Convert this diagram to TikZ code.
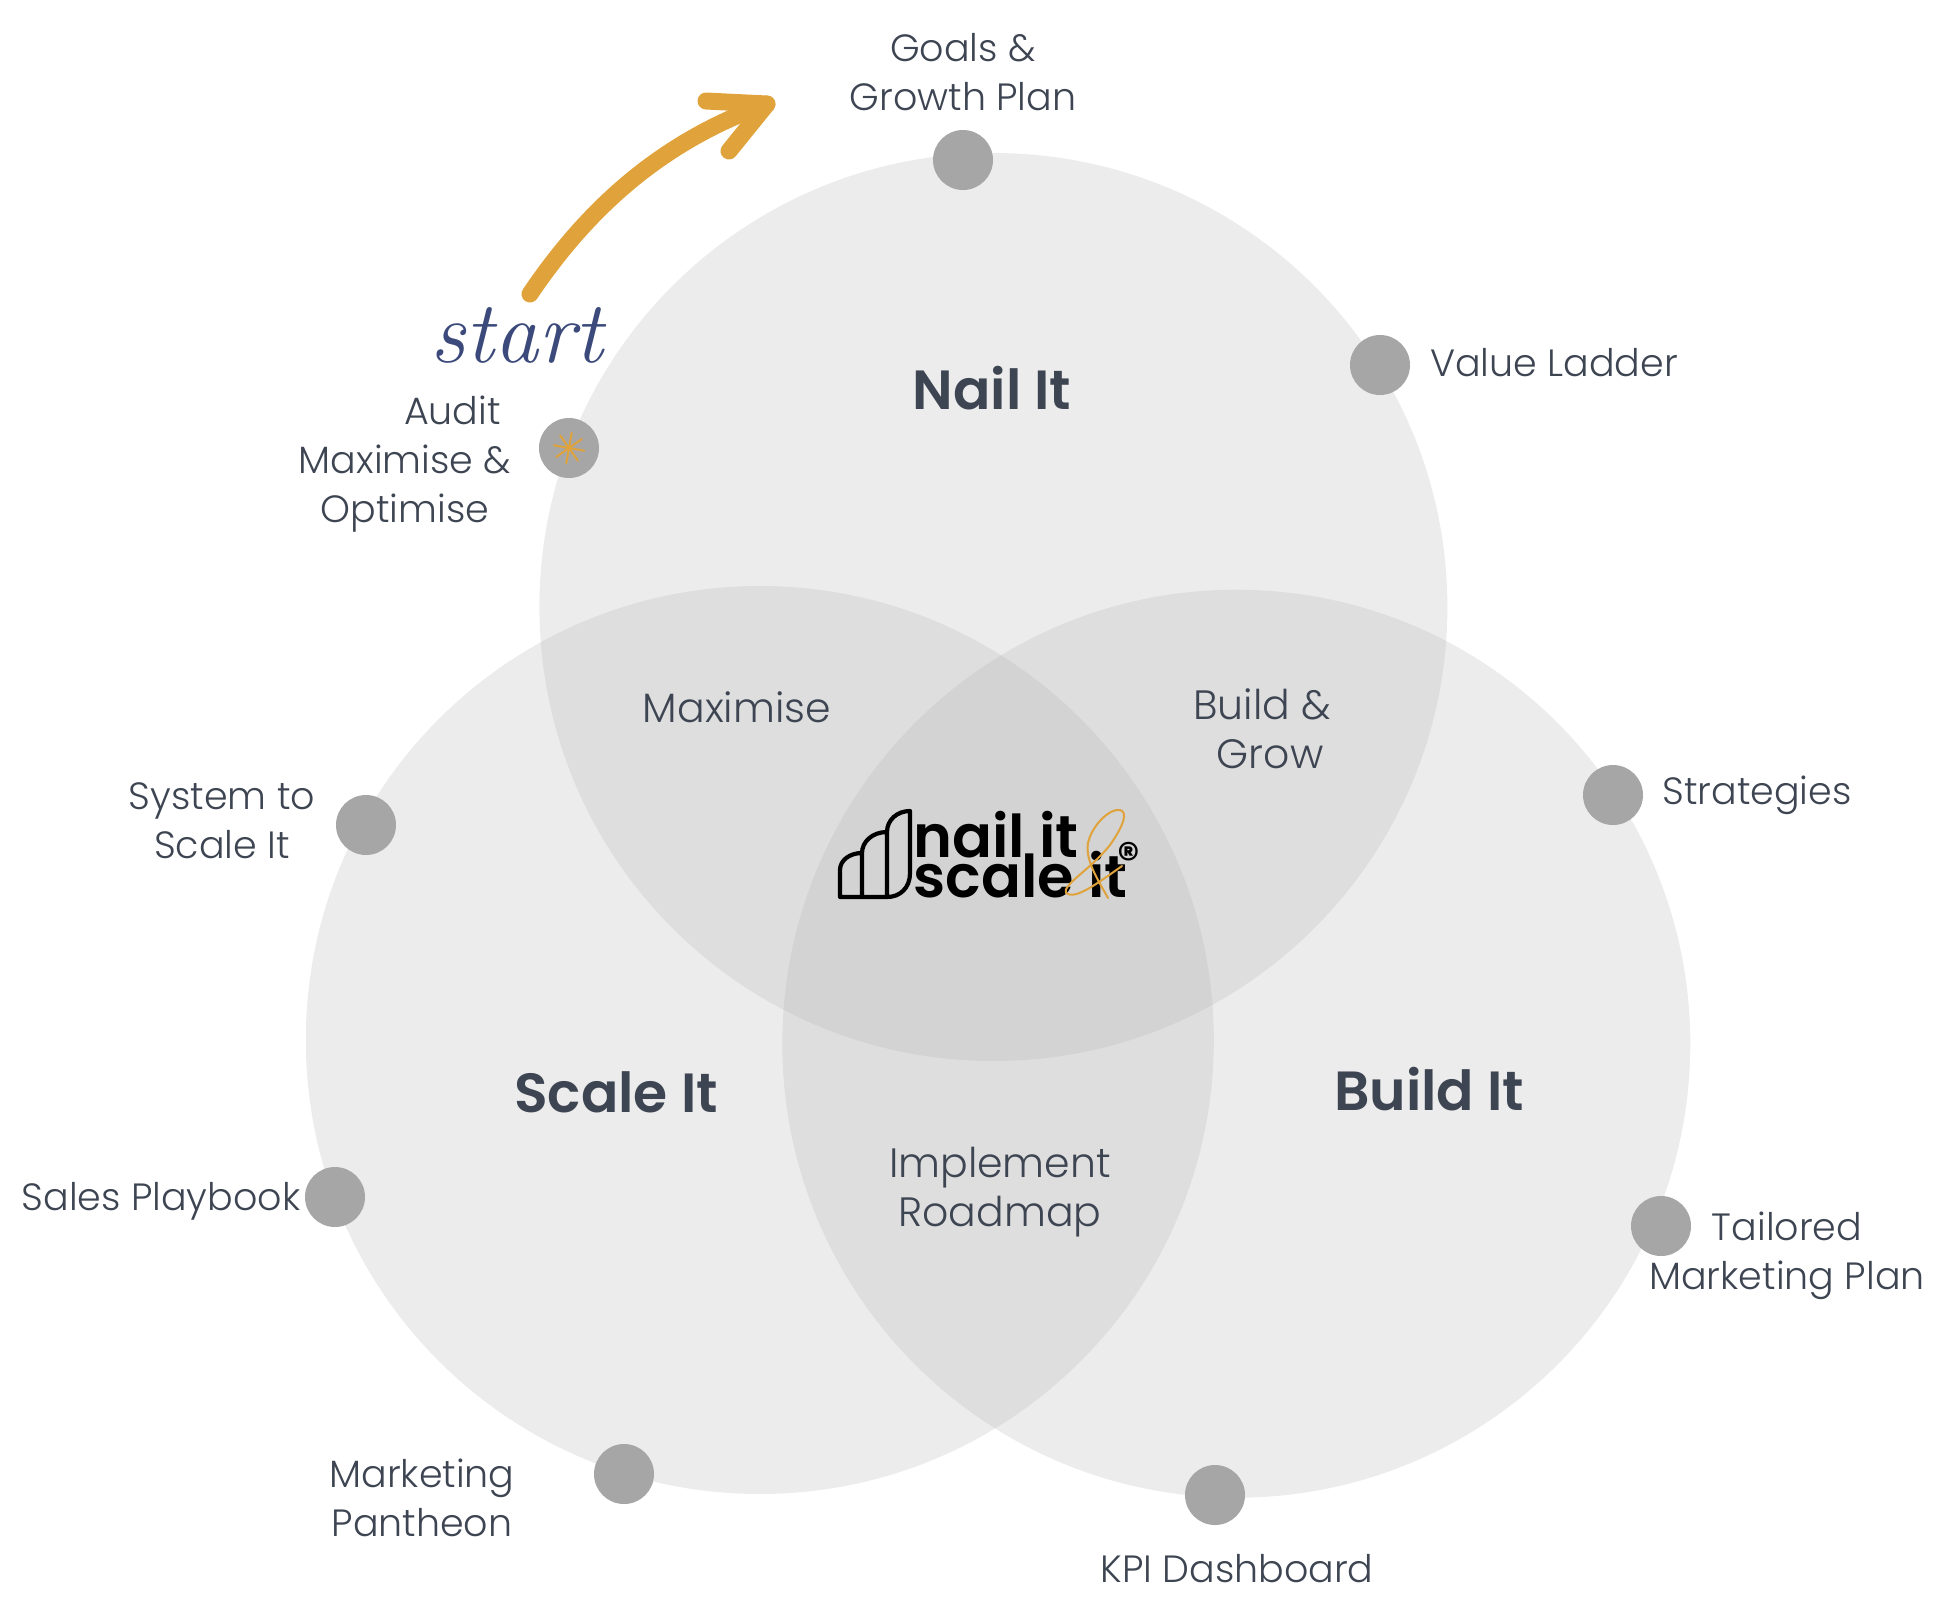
\documentclass[tikz,border=0pt]{standalone}
\usepackage{fontspec}
\setmainfont{Poppins}[UprightFont=* Light,BoldFont=* SemiBold]
\newfontfamily\logofont{Poppins}[UprightFont=* SemiBold]
\usetikzlibrary{arrows}
\definecolor{inkgray}{HTML}{3E4552}
\definecolor{dotgray}{HTML}{A6A6A6}
\definecolor{onecircle}{HTML}{ECECEC}
\definecolor{twocircle}{HTML}{DEDEDE}
\definecolor{threecircle}{HTML}{D3D3D3}
\definecolor{arrowgold}{HTML}{E0A33B}
\definecolor{startblue}{HTML}{3B4A7A}

\begin{document}
\begin{tikzpicture}[x=0.5pt,y=-0.5pt,node distance=100pt]
\tikzstyle{dotnode}=[circle,fill=dotgray,draw=none,inner sep=0pt,minimum size=30pt]
\tikzstyle{lbl}=[text=inkgray,align=center,inner sep=0pt,font=\fontsize{19pt}{24.5pt}\selectfont]
\tikzstyle{innerlbl}=[text=inkgray,align=center,inner sep=0pt,font=\fontsize{20.5pt}{24.5pt}\selectfont]
\tikzstyle{bigword}=[text=inkgray,inner sep=0pt,font=\bfseries\fontsize{27.6pt}{30pt}\selectfont]
\tikzstyle{logoword}=[text=black,inner sep=0pt,anchor=base west,font=\logofont\fontsize{29.5pt}{30pt}\selectfont]
\tikzset{golden/.style={draw=arrowgold,line cap=round,line join=round}}

        \useasboundingbox (0,0) rectangle (1948,1597);

        % the three big circles
        \fill[onecircle] (993.4,607) circle (454);
        \fill[onecircle] (759.8,1040) circle (454);
        \fill[onecircle] (1236.3,1043.7) circle (454);
        \begin{scope}
            \clip (993.4,607) circle (454);
            \fill[twocircle] (759.8,1040) circle (454);
            \fill[twocircle] (1236.3,1043.7) circle (454);
        \end{scope}
        \begin{scope}
            \clip (759.8,1040) circle (454);
            \fill[twocircle] (1236.3,1043.7) circle (454);
            \clip (1236.3,1043.7) circle (454);
            \fill[threecircle] (993.4,607) circle (454);
        \end{scope}

        % dots round the outside
        \node[dotnode] (goals)      at (963,160)   {};
        \node[dotnode] (value)      at (1380,365)  {};
        \node[dotnode] (strategies) at (1613,795)  {};
        \node[dotnode] (tailored)   at (1661,1226) {};
        \node[dotnode] (kpi)        at (1215,1495) {};
        \node[dotnode] (pantheon)   at (624,1474)  {};
        \node[dotnode] (sales)      at (335,1197)  {};
        \node[dotnode] (system)     at (366,825)   {};
        \node[dotnode] (audit)      at (569,448)   {};

        % labels of the dots
        \node[lbl] (goalsl)      [above of=goals,node distance=44pt] {Goals \&\\Growth Plan};
        \node[lbl] (valuel)      [right of=value,node distance=87pt,yshift=1pt] {Value Ladder};
        \node[lbl] (strategiesl) [right of=strategies,node distance=72pt] {Strategies};
        \node[lbl] (tailoredl)   [right of=tailored,node distance=63pt,yshift=-15pt] {Tailored\\Marketing Plan};
        \node[lbl] (kpil)        [below of=kpi,node distance=37pt,xshift=11pt] {KPI Dashboard};
        \node[lbl] (pantheonl)   [left of=pantheon,node distance=101pt,yshift=-12pt] {Marketing\\Pantheon};
        \node[lbl] (salesl)      [left of=sales,node distance=87pt,yshift=-2pt] {Sales Playbook};
        \node[lbl] (systeml)     [left of=system,node distance=72pt,yshift=2pt] {System to\\Scale It};
        \node[lbl] (auditl)      [left of=audit,node distance=82pt,yshift=-8pt] {\hspace*{2.5em}Audit\\Maximise \&\\Optimise};

        % names of the regions
        \node[bigword] (nail)  at (992,388)   {Nail It};
        \node[bigword] (scale) at (616,1092)  {Scale It};
        \node[bigword] (build) at (1429,1089) {Build It};
        \node[innerlbl] (maximise)  at (737,707)   {Maximise};
        \node[innerlbl] (buildgrow) at (1262,729)  {Build \&\\\hspace*{.4em}Grow};
        \node[innerlbl] (implement) at (1000,1192) {Implement\\Roadmap};

        % start arrow
        \coordinate (arrowstart) at (530,294);
        \coordinate (arrowtip)   at (767,104);
        \coordinate (barbleft)   at (706,101);
        \coordinate (barbright)  at (729,151);
        \draw[golden,line width=8.5pt] (arrowstart) .. controls (590,205) and (665,140) .. (arrowtip);
        \draw[golden,line width=8.5pt] (barbleft) -- (arrowtip) -- (barbright);
        \node[text=startblue,inner sep=0pt,font=\itshape\fontsize{44pt}{44pt}\selectfont\fontspec{Latin Modern Roman}] (startword) at (517,335) {start};

        % star in the audit dot
        \foreach \a in {10,55,100,145,190,235,280,325}
            \draw[golden,line width=1pt] (audit.center) -- +(\a:15.5);

        % logo
        \draw[black,line width=2.1pt,line join=round]
            (840,897) -- (840,870) .. controls (840,860) and (850,853) .. (862,853)
            .. controls (862,842) and (872,832) .. (887,832)
            .. controls (887,820) and (897,811) .. (910,811)
            -- (910,873) .. controls (910,888) and (900,897) .. (887,897) -- cycle
            (862,853) -- (862,897)
            (887,832) -- (887,897);
        \node[logoword] (nailword)  at (913,857) {nail it};
        \node[logoword] (scaleword) at (913,897) {scale};
        \node[logoword] (itword)    at (1088,897) {it};
        \node[inner sep=0pt,text=black,font=\logofont\fontsize{22pt}{22pt}\selectfont] (regmark) at (1129,858) {®};
        \draw[golden,line width=1pt]
            (1108,898) .. controls (1098,880) and (1085,860) .. (1088,843)
            .. controls (1092,825) and (1110,808) .. (1120,810)
            .. controls (1128,812) and (1124,825) .. (1110,845)
            .. controls (1090,870) and (1062,885) .. (1066,893)
            .. controls (1075,900) and (1095,885) .. (1122,866);
\end{tikzpicture}
\end{document}
